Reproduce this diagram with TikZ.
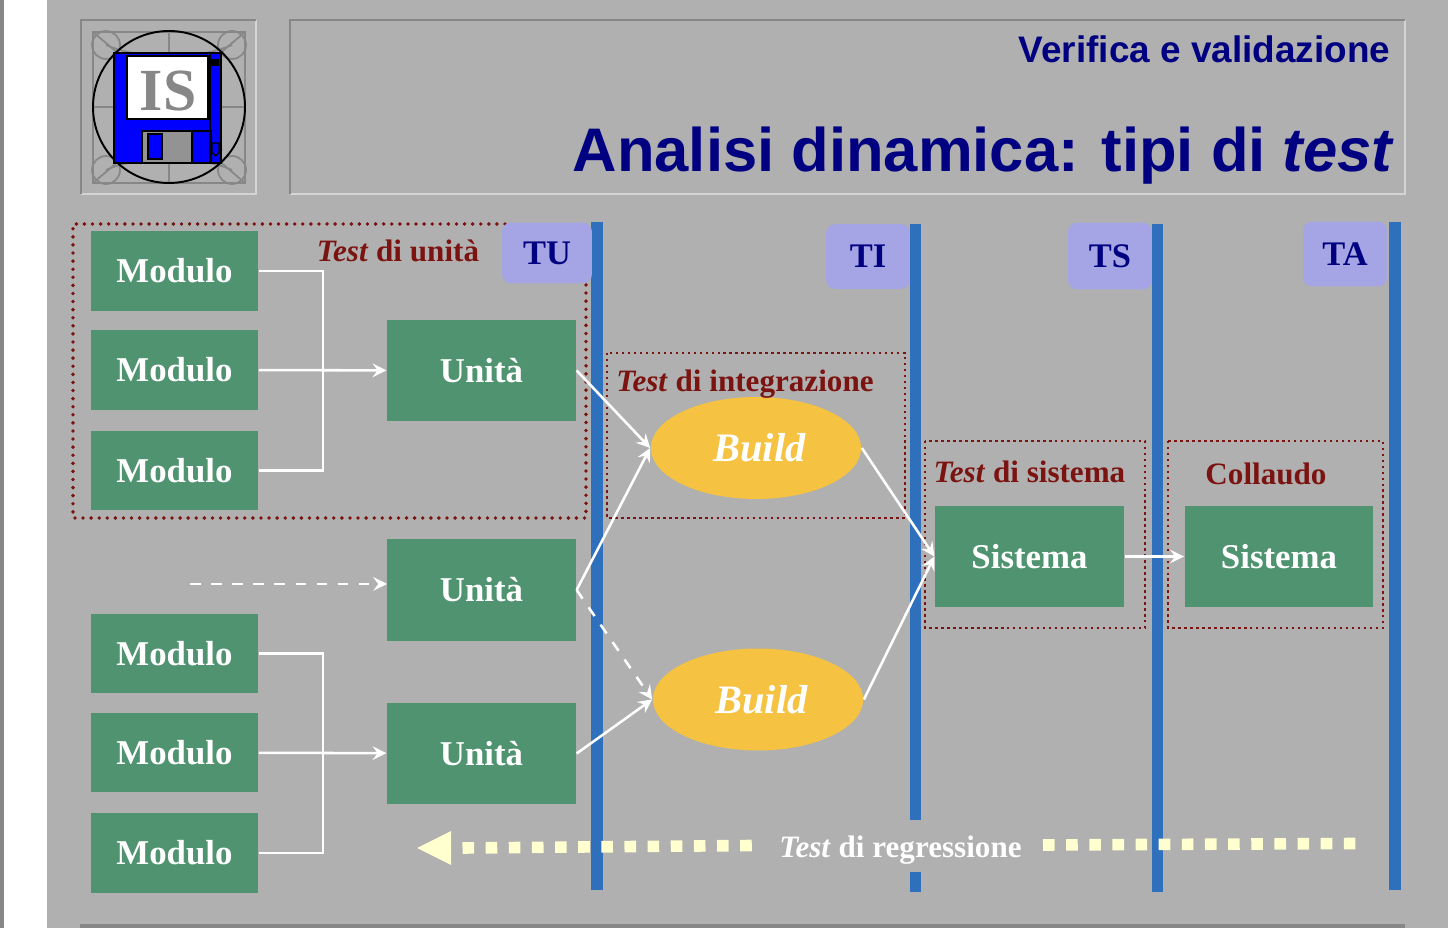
\documentclass[tikz,border=0pt]{standalone}
\usepackage{fontspec}
\setmainfont{Liberation Serif}
\setsansfont{Liberation Sans}
\usepackage{xcolor}
\usetikzlibrary{arrows,positioning,shapes.geometric}
\definecolor{sfondo}{HTML}{B0B0B0}
\definecolor{verde}{HTML}{4F9370}
\definecolor{barra}{HTML}{2F70BD}
\definecolor{giallo}{HTML}{F5C242}
\definecolor{lilla}{HTML}{A5A5E5}
\definecolor{rosso}{HTML}{7B1310}
\definecolor{blu}{HTML}{000080}
\definecolor{crema}{HTML}{FFFFD0}
\definecolor{scuro}{HTML}{878787}
\definecolor{chiaro}{HTML}{D4D4D4}
\newcommand{\tst}{\textbf{\textit{Test}}}
\tikzset{
	modulo/.style={fill=verde,text=white,font=\fontsize{9.9}{12}\selectfont\bfseries,minimum width=47.6pt,minimum height=22.6pt,inner sep=0pt},
	unita/.style={fill=verde,text=white,font=\fontsize{9.9}{12}\selectfont\bfseries,minimum width=53.7pt,minimum height=28.8pt,inner sep=0pt},
	build/.style={ellipse,fill=giallo,text=white,font=\fontsize{11.5}{13}\selectfont\bfseries\itshape,minimum width=59.8pt,minimum height=29pt,inner sep=0pt},
	sigla/.style={fill=lilla,text=blu,rounded corners=2.5pt,font=\fontsize{9.8}{12}\selectfont\bfseries,inner sep=0pt},
	nomefase/.style={text=rosso,font=\fontsize{8.85}{11}\selectfont\bfseries,inner sep=0pt},
	cornice/.style={rosso,line width=1.1pt,line cap=round,dash pattern=on 0pt off 2.3pt},
	cornicina/.style={rosso,line width=0.8pt,dash pattern=on 0.7pt off 1pt},
	linea/.style={white,line width=0.72pt},
	freccia/.style={linea,-stealth},
	puntini/.style={crema,line width=3.3pt,dash pattern=on 3.3pt off 3.28pt},
	asta/.style={barra,line width=3.3pt}
}
\begin{document}
\begin{tikzpicture}[x=0.01cm,y=-0.01cm]
	\useasboundingbox (0,0) rectangle (1448,928);
	\fill[white] (0,0) rectangle (1448,928);
	\fill[scuro] (0,0) rectangle (4,928);
	\fill[sfondo] (47,0) rectangle (1448,928);
	\fill[scuro] (80,924) rectangle (1405,928);
	% testata
	\draw[chiaro,line width=0.8pt] (81,194) -- (256,194) -- (256,20);
	\draw[scuro,line width=0.8pt] (81,194) -- (81,20) -- (256,20);
	\draw[chiaro,line width=0.8pt] (290,194) -- (1405,194) -- (1405,20);
	\draw[scuro,line width=0.8pt] (290,194) -- (290,20) -- (1405,20);
	\node[left,blu,inner sep=0pt,font=\sffamily\bfseries\fontsize{10.5}{13}\selectfont] (sezione) at (1391,49) {Verifica e validazione};
	\node[left,blu,inner sep=0pt,font=\sffamily\bfseries\fontsize{17.5}{21}\selectfont] (titolo) at (1395,156) {Analisi dinamica: tipi di \textit{test}};
	% logo
	\begin{scope}[scuro,line width=0.5pt]
		\draw[line width=0.7pt] (93,32) rectangle (245,183);
		\draw (169,32) -- (169,183) (93,107) -- (245,107);
		\foreach \cx/\cy in {106/45,232/45,106/170,232/170}
			\draw (\cx,\cy) circle (14);
		\draw (93,32) -- (120,55) (245,32) -- (218,55) (93,183) -- (120,160) (245,183) -- (218,160);
		\draw (106,45) .. controls (140,60) and (198,60) .. (232,45);
		\draw (106,170) .. controls (140,155) and (198,155) .. (232,170);
	\end{scope}
	\draw[black,line width=0.55pt] (169,107) circle (76);
	\filldraw[fill=blue,draw=black,line width=0.8pt] (114,53) rectangle (221,163);
	\filldraw[fill=white,draw=black,line width=0.8pt] (127,56) rectangle (208,119);
	\node[text=scuro,font=\fontsize{17}{20}\selectfont\bfseries,inner sep=0pt] (sigla) at (168,91) {IS};
	\filldraw[fill=scuro!70!sfondo,draw=black,line width=0.8pt] (142,131) rectangle (211,163);
	\filldraw[fill=blue,draw=black,line width=0.6pt] (192,131) rectangle (211,163);
	\filldraw[fill=blue,draw=black,line width=0.8pt] (148,134) rectangle (162,159);
	\draw[black,line width=0.8pt] (210,53) -- (210,163);
	\fill[black] (211,59) rectangle (219,66);
	\draw[black,line width=0.4pt] (212,143) -- (219,143) -- (219,150) -- (221,150) -- (215.5,156) -- (210,150) -- (212,150) -- cycle;
	% aste
	\draw[asta] (597,222) -- (597,890);
	\draw[asta] (915.5,224) -- (915.5,892);
	\draw[asta] (1157.5,224) -- (1157.5,892);
	\draw[asta] (1395,222) -- (1395,890);
	% cornici
	\draw[cornice] (505,224) -- (73,224) -- (73,518) -- (586,518) -- (586,270);
	\draw[cornicina] (607,353) rectangle (905,518);
	\draw[cornicina] (925,441) rectangle (1145,628);
	\draw[cornicina] (1168,441) rectangle (1383,628);
	% sigle
	\node[sigla,minimum width=25.5pt,minimum height=17.3pt] (tu) at (547,253) {TU};
	\node[sigla,minimum width=23.8pt,minimum height=18.4pt] (ti) at (868,256.5) {TI};
	\node[sigla,minimum width=23.8pt,minimum height=19pt] (ts) at (1110,256) {TS};
	\node[sigla,minimum width=23.8pt,minimum height=18.4pt] (ta) at (1345,254) {TA};
	% moduli
	\node[modulo] (m1) at (174.5,271) {Modulo};
	\node[modulo] (m2) at (174.5,370) {Modulo};
	\node[modulo] (m3) at (174.5,470.5) {Modulo};
	\node[modulo] (m4) at (174.5,653.5) {Modulo};
	\node[modulo] (m5) at (174.5,752.5) {Modulo};
	\node[modulo] (m6) at (174.5,853) {Modulo};
	\node[unita] (u1) at (481.5,370.5) {Unità};
	\node[unita] (u2) at (481.5,590) {Unità};
	\node[unita] (u3) at (481.5,753.5) {Unità};
	\node[build] (b1) at (756,448) {\hspace*{2pt}Build};
	\node[build] (b2) at (758,699.5) {\hspace*{2pt}Build};
	\node[unita] (s1) at (1029.5,556.5) {Sistema};
	\node[unita] (s2) at (1279,556.5) {Sistema};
	% nomi delle fasi
	\node[nomefase] (nu) at (398,251) {\tst{} di unità};
	\node[nomefase] (ni) at (745,384) {\tst{} di integrazione};
	\node[nomefase] (ns) at (1029.5,472) {\tst{} di sistema};
	\node[nomefase] (nc) at (1266,474) {Collaudo};
	% collegamenti
	\coordinate (j1) at (323,370);
	\coordinate (j2) at (323,753);
	\coordinate (ing) at (190,584);
	\coordinate (u2in) at (387,584);
	\draw[linea] (m1.east) -| (j1) |- (m3.east);
	\draw[freccia] (m2) -- (u1);
	\draw[linea] (m4.east) -| (j2) |- (m6.east);
	\draw[freccia] (m5) -- (u3);
	\draw[freccia,dashed] (ing) -- (u2in);
	\draw[freccia] (u1.east) -- (b1.west);
	\draw[freccia] (u2.east) -- (b1.west);
	\draw[freccia,dashed] (u2.east) -- (b2.west);
	\draw[freccia] (u3.east) -- (b2.west);
	\draw[freccia] (b1.east) -- (s1.west);
	\draw[freccia] (b2.east) -- (s1.west);
	\draw[freccia] (s1) -- (s2);
	% regressione
	\coordinate (r1) at (1357,843.5);
	\coordinate (r2) at (1043,845);
	\coordinate (r3) at (753,845.5);
	\coordinate (r4) at (462.5,848);
	\draw[puntini] (r2) -- (r1);
	\draw[puntini] (r4) -- (r3);
	\fill[crema] (451,831) -- (417,848) -- (451,865) -- cycle;
	\node[fill=sfondo,inner sep=0pt,minimum width=73pt,minimum height=14.7pt] (fascia) at (900,846) {};
	\node[nomefase,text=white] (nr) at (900.5,850) {\tst{} di regressione};
\end{tikzpicture}
\end{document}
